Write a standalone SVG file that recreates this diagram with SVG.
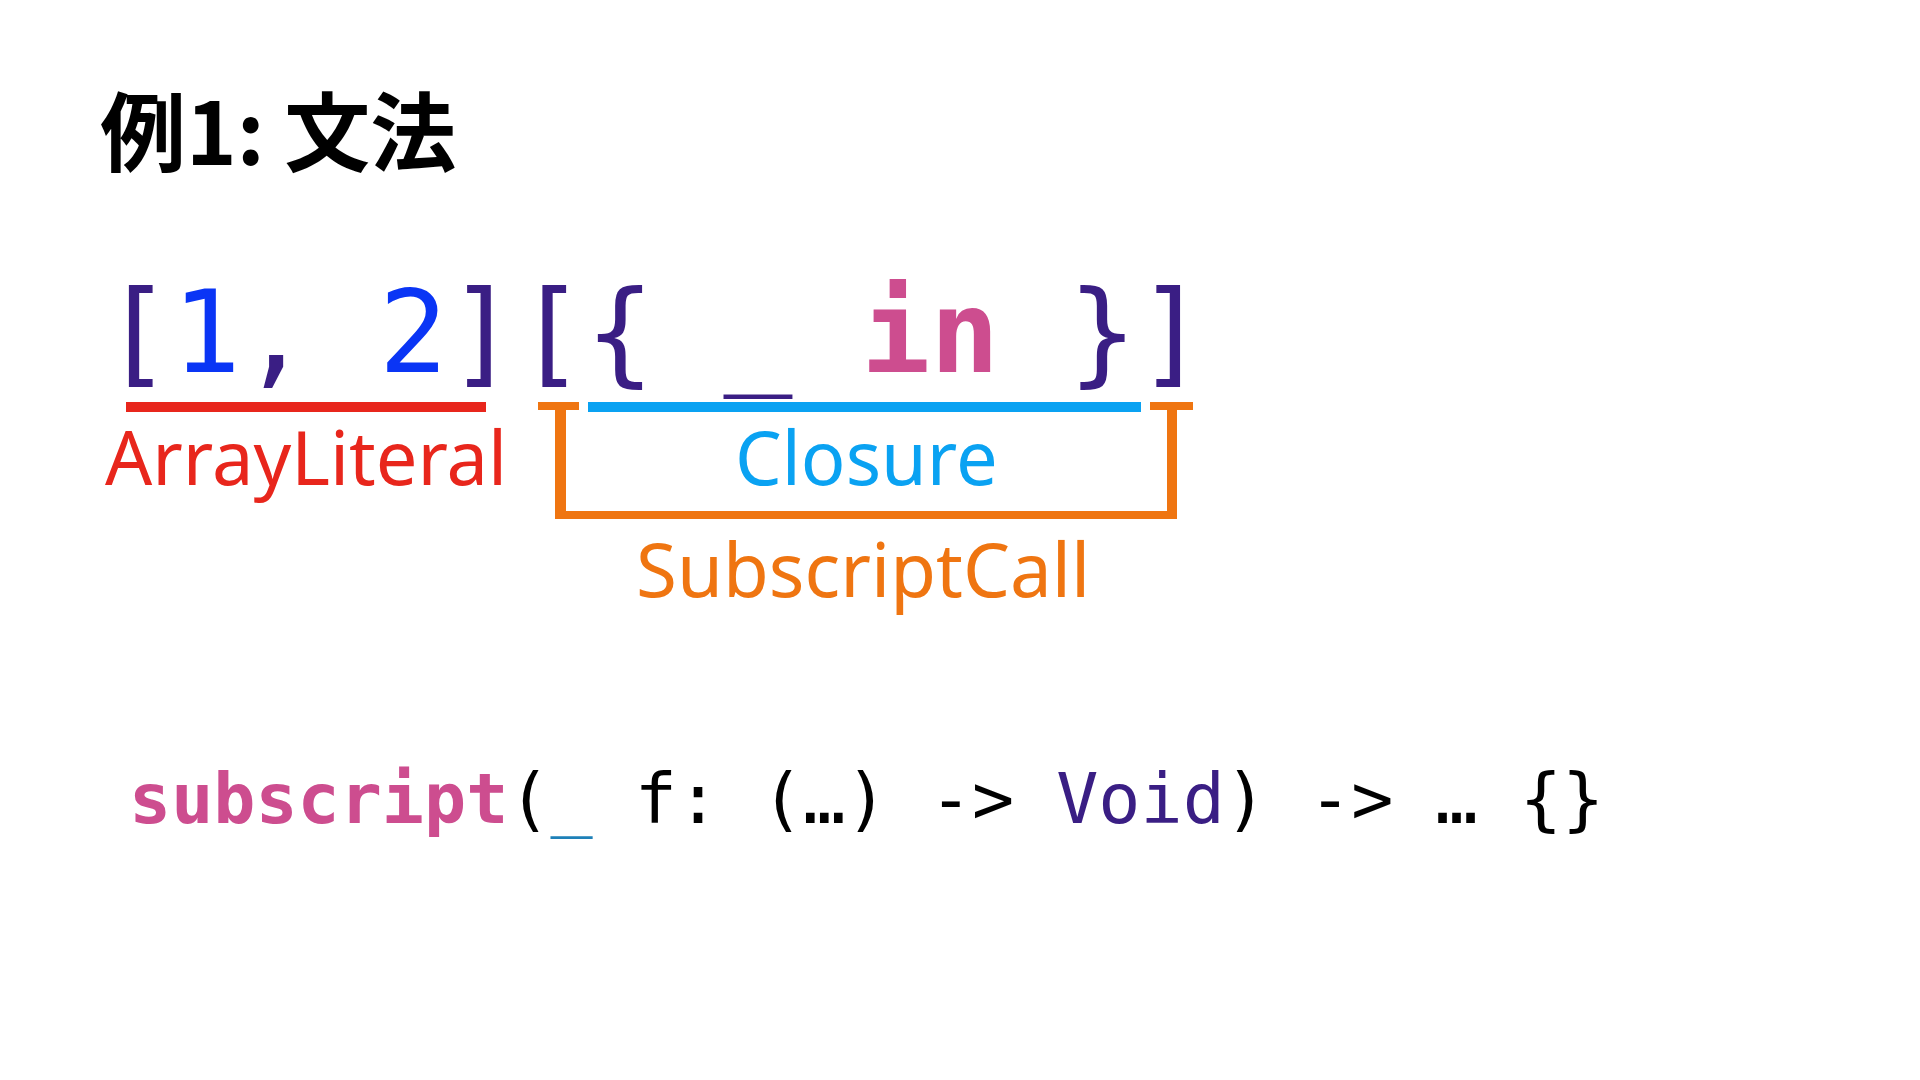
<svg xmlns="http://www.w3.org/2000/svg" width="1920" height="1080" viewBox="0 0 1920 1080">
<style>
.title{font-family:"Noto Sans CJK JP","Noto Sans",sans-serif;font-weight:700;font-size:86px;fill:#000}
.code1{font-family:"DejaVu Sans Mono","Liberation Mono",monospace;font-size:114.5px;fill:#3a1e84}
.code2{font-family:"DejaVu Sans Mono","Liberation Mono",monospace;font-size:70px;fill:#000}
.num{fill:#0a35f5}
.kw{fill:#cd4d8f;font-weight:700}
.ty{fill:#3a1e84}
.us{fill:#1e80b8}
.lbl{font-family:"Noto Sans","Liberation Sans",sans-serif;font-size:74px}
.red{fill:#e8261c}
.blue{fill:#0aa2f2}
.orange{fill:#ef7511}
.conn-red{fill:#e8261c}
.conn-blue{fill:#0aa2f2}
.conn-orange{fill:#ef7511}
</style>
<rect width="1920" height="1080" fill="#fff"/>
<g id="title"><text class="title" x="100" y="165">例1: 文法</text></g>
<g id="code-expression"><text class="code1" x="103" y="372">[<tspan class="num">1</tspan>, <tspan class="num">2</tspan>][{ _ <tspan class="kw">in</tspan> }]</text></g>
<g id="connectors">
<rect class="conn-red" x="126" y="402" width="360" height="10"/>
<rect class="conn-blue" x="588" y="402" width="553" height="10"/>
<path class="conn-orange" d="M538 402H579V410H566V511H1167V410H1150V402H1193V410H1177V519H555V410H538Z"/>
</g>
<g id="node-arrayliteral"><text class="lbl red" x="105" y="485">ArrayLiteral</text></g>
<g id="node-closure"><text class="lbl blue" x="735" y="485">Closure</text></g>
<g id="node-subscriptcall"><text class="lbl orange" x="636" y="597" style="font-size:74.5px">SubscriptCall</text></g>
<g id="code-signature"><text class="code2" x="129" y="823"><tspan class="kw">subscript</tspan>(<tspan class="us">_</tspan> f: (…) -&gt; <tspan class="ty">Void</tspan>) -&gt; … {}</text></g>
</svg>
